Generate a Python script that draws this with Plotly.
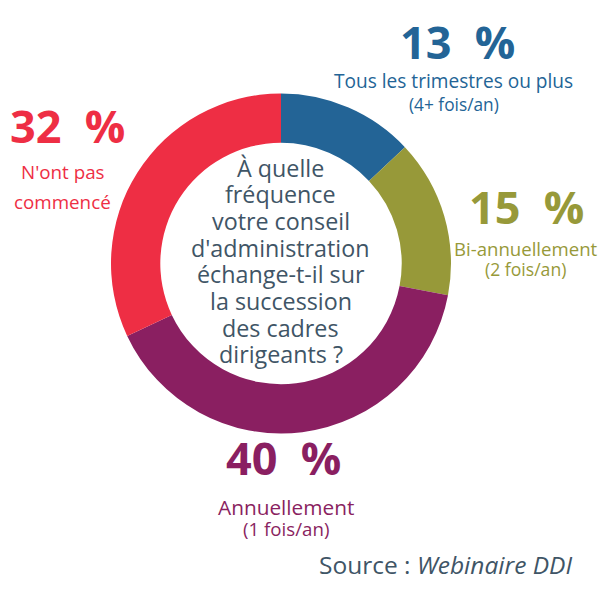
import plotly.graph_objects as go

categories = ["Tous les trimestres ou plus", "Bi-annuellement", "Annuellement", "N'ont pas commencé"]
sublabels = ["(4+ fois/an)", "(2 fois/an)", "(1 fois/an)", ""]
values = [13, 15, 40, 32]
colors = ["#236496", "#979939", "#8A1F61", "#EE2E44"]
question_lines = ["À quelle", "fréquence", "votre conseil", "d'administration",
                  "échange-t-il sur", "la succession", "des cadres", "dirigeants ?"]
source = "Source : <i>Webinaire DDI</i>"

W = H = 600
def px(x):
    return x / W
def py(y):
    return 1 - y / H

fig = go.Figure(go.Pie(
    values=values,
    labels=categories,
    marker=dict(colors=colors, line=dict(width=0)),
    hole=0.71,
    sort=False,
    direction="clockwise",
    rotation=0,
    textinfo="none",
    hoverinfo="label+percent",
    domain=dict(x=[px(111), px(451)], y=[py(433.5), py(93.5)]),
    showlegend=False,
))

FONT = "Open Sans"
slate = "#3F5566"

# label layout: (centre x, pct y, [(text, y, size), ...])
label_layout = [
    (457, 41, [(categories[0], 81, 19.1), (sublabels[0], 104, 17.3)]),
    (526, 207, [(categories[1], 248, 18.6), (sublabels[1], 269, 17.6)]),
    (283, 457.5, [(categories[2], 507, 20.8), (sublabels[2], 528, 18.7)]),
    (67.5, 125, [("N'ont pas", 171.5, 18.8), ("commencé", 201.5, 18.8)]),
]
desc_cx = [453.5, 525.5, 285.5, 62.5]

ann = []
for i, (cx, pct_y, lines) in enumerate(label_layout):
    ann.append(dict(
        x=px(cx), y=py(pct_y), xref="paper", yref="paper",
        text=f"<b>{values[i]}&nbsp;&nbsp;%</b>", showarrow=False,
        xanchor="center", yanchor="middle",
        font=dict(family=FONT, size=45, color=colors[i]),
    ))
    for txt, yy, fs in lines:
        if not txt:
            continue
        ann.append(dict(
            x=px(desc_cx[i]), y=py(yy), xref="paper", yref="paper",
            text=txt, showarrow=False, xanchor="center", yanchor="middle",
            font=dict(family=FONT, size=fs, color=colors[i]),
        ))

q_fs = 23.3
q_baseline0 = 176.7
q_step = 26.67
for k, line in enumerate(question_lines):
    base = q_baseline0 + k * q_step
    ann.append(dict(
        x=px(280.5), y=py(base - 0.388 * q_fs), xref="paper", yref="paper",
        text=line, showarrow=False, xanchor="center", yanchor="middle",
        font=dict(family=FONT, size=q_fs, color=slate),
    ))

ann.append(dict(
    x=px(445), y=py(564), xref="paper", yref="paper", text=source,
    showarrow=False, xanchor="center", yanchor="middle",
    font=dict(family=FONT, size=24.5, color=slate),
))

fig.update_layout(
    width=W, height=H,
    margin=dict(l=0, r=0, t=0, b=0),
    paper_bgcolor="white", plot_bgcolor="white",
    annotations=ann,
)

fig.write_html("out.html", config={"displayModeBar": False},
               post_script="document.body.style.margin='0';document.body.style.padding='0';")
